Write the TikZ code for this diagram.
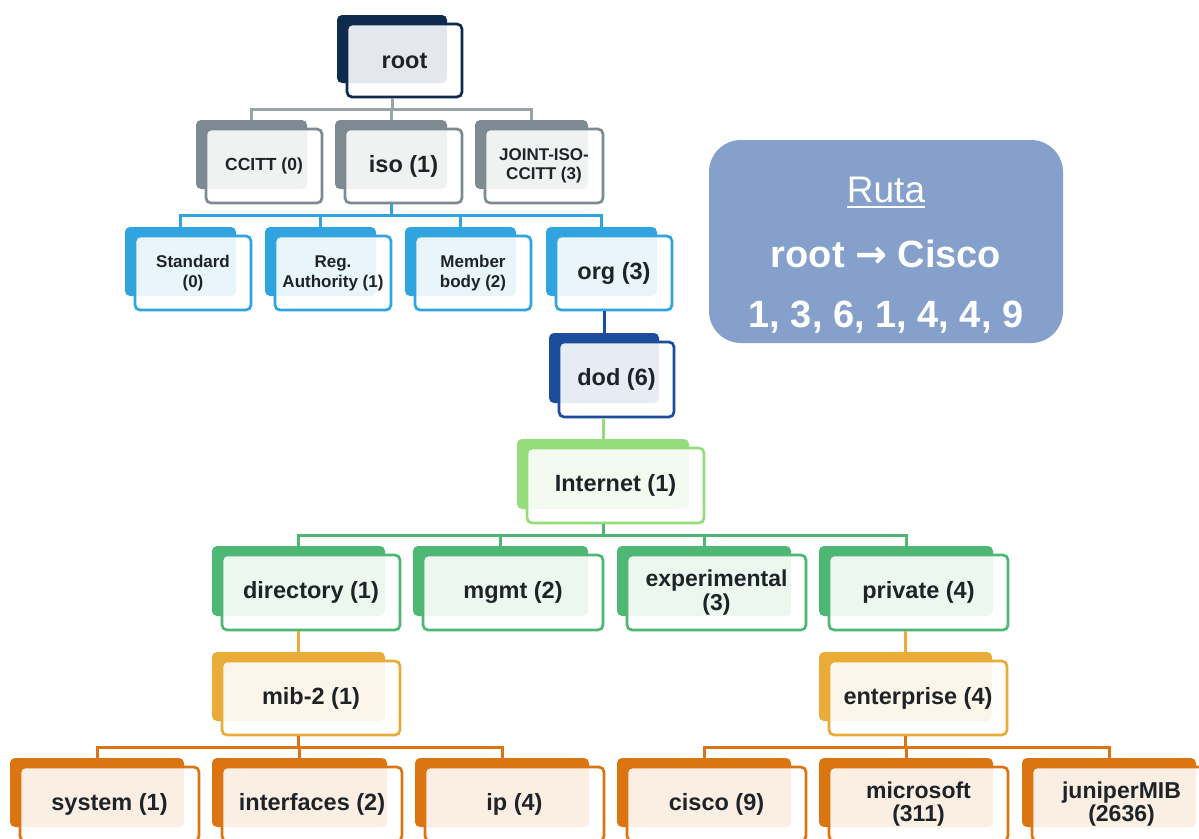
\documentclass[tikz,border=0pt]{standalone}
\usepackage{fontspec}
\setmainfont{Liberation Sans}
\newfontfamily\arrfont{DejaVu Sans}
\usetikzlibrary{fit,calc}
\definecolor{rootc}{HTML}{0E2A4D}
\definecolor{grayc}{HTML}{7E8A91}
\definecolor{grayl}{HTML}{99A3A8}
\definecolor{bluec}{HTML}{2FA4DE}
\definecolor{dodc}{HTML}{1C4C9C}
\definecolor{inetc}{HTML}{95DC7C}
\definecolor{greenc}{HTML}{4FB774}
\definecolor{goldc}{HTML}{E9AC38}
\definecolor{orangec}{HTML}{DB7512}
\definecolor{txt}{HTML}{1E2328}
\definecolor{rutac}{HTML}{86A0CC}
\tikzset{
  backbox/.style={rounded corners=5pt, inner sep=0pt, draw=none},
  frontbox/.style={rounded corners=5pt, inner sep=0pt, line width=2.7pt, fill=white, fill opacity=0.89},
  cardtext/.style={inner sep=0pt, align=center, text=txt, anchor=center},
  conn/.style={line width=3pt},
  rutabox/.style={rounded corners=32pt, inner sep=0pt, fill=rutac, draw=none},
  rutatext/.style={text=white, inner sep=0pt, anchor=base},
}
% name color x1 y1 x2 y2 size skip text
\newcommand\card[9]{%
  \node[backbox, fill=#2, fit={(#3-10,#4-9) (#5-15,#6-14)}] (#1b) {};
  \node[frontbox, draw=#2, fit={(#3,#4) (#5,#6)}] (#1) {};
  \node[cardtext, font=\bfseries\fontsize{#7}{#8}\selectfont] (#1t) at (#1.center) {#9};
}
\newcommand\conn[3]{\draw[conn, draw=#3] (#1b.center |- #1.south) |- ($(#1.south)!.5!(#2b.north)$) -| (#2b.north);}
\newcommand\vconn[3]{\draw[conn, draw=#3] (#2b.north |- #1.south) -- (#2b.north);}
\begin{document}
\begin{tikzpicture}[x=1pt, y=-1pt]
\useasboundingbox (0,0) rectangle (1199,838);
\clip (0,0) rectangle (1199,838);
\fill[white] (0,0) rectangle (1199,838);

\card{root}{rootc}{347}{24}{462}{97}{23.5}{26}{root}

\card{ccitt}{grayc}{206}{129}{322}{203}{17.5}{20}{CCITT (0)}
\card{iso}{grayc}{345}{129}{462}{203}{23.5}{26}{iso (1)}
\card{joint}{grayc}{485}{129}{603}{203}{17}{19}{JOINT-ISO-\\CCITT (3)}

\card{std}{bluec}{135}{236}{251}{310}{17}{20}{Standard\\(0)}
\card{reg}{bluec}{275}{236}{391}{310}{17}{20}{Reg.\\Authority (1)}
\card{mem}{bluec}{415}{236}{531}{310}{17}{20}{Member\\body (2)}
\card{org}{bluec}{556}{236}{672}{310}{23.5}{26}{org (3)}

\card{dod}{dodc}{559}{342}{674}{417}{23.5}{26}{dod (6)}
\card{inet}{inetc}{527}{448}{704}{523}{23.5}{26}{Internet (1)}

\card{dir}{greenc}{222}{555}{400}{630}{23.5}{26}{directory (1)}
\card{mgmt}{greenc}{423}{555}{603}{630}{23.5}{26}{mgmt (2)}
\card{exp}{greenc}{627}{555}{806}{630}{23}{24}{experimental\\(3)}
\card{priv}{greenc}{829}{555}{1008}{630}{23.5}{26}{private (4)}

\card{mib}{goldc}{222}{661}{400}{735}{23.5}{26}{mib-2 (1)}
\card{ent}{goldc}{829}{661}{1007}{735}{23.5}{26}{enterprise (4)}

\card{sys}{orangec}{20}{767}{199}{841}{23.5}{26}{system (1)}
\card{intf}{orangec}{222}{767}{402}{841}{23.5}{26}{interfaces (2)}
\card{ip}{orangec}{425}{767}{604}{841}{23.5}{26}{ip (4)}
\card{cisco}{orangec}{627}{767}{806}{841}{23.5}{26}{cisco (9)}
\card{ms}{orangec}{829}{767}{1008}{841}{23}{23}{microsoft\\(311)}
\card{jun}{orangec}{1032}{767}{1211}{841}{23}{23}{juniperMIB\\(2636)}

% connectors
\conn{root}{ccitt}{grayl}
\conn{root}{iso}{grayl}
\conn{root}{joint}{grayl}
\conn{iso}{std}{bluec}
\conn{iso}{reg}{bluec}
\conn{iso}{mem}{bluec}
\conn{iso}{org}{bluec}
\vconn{org}{dod}{dodc}
\vconn{dod}{inet}{inetc}
\conn{inet}{dir}{greenc}
\conn{inet}{mgmt}{greenc}
\conn{inet}{exp}{greenc}
\conn{inet}{priv}{greenc}
\vconn{dir}{mib}{goldc}
\vconn{priv}{ent}{goldc}
\conn{mib}{sys}{orangec}
\conn{mib}{intf}{orangec}
\conn{mib}{ip}{orangec}
\conn{ent}{cisco}{orangec}
\conn{ent}{ms}{orangec}
\conn{ent}{jun}{orangec}

% Ruta box
\node[rutabox, fit={(709,140) (1063,343)}] (ruta) {};
\node[rutatext, font=\fontsize{37}{40}\selectfont] (rutaT) at (886,202) {Ruta};
\draw[white, line width=2pt] ([yshift=-4.5pt]rutaT.base west) -- ([yshift=-4.5pt]rutaT.base east);
\node[rutatext, font=\bfseries\fontsize{38}{40}\selectfont] (rutaP) at (886,267) {root {\arrfont →} Cisco};
\node[rutatext, font=\bfseries\fontsize{38}{40}\selectfont] (rutaN) at (886,327) {1, 3, 6, 1, 4, 4, 9};
\end{tikzpicture}
\end{document}
